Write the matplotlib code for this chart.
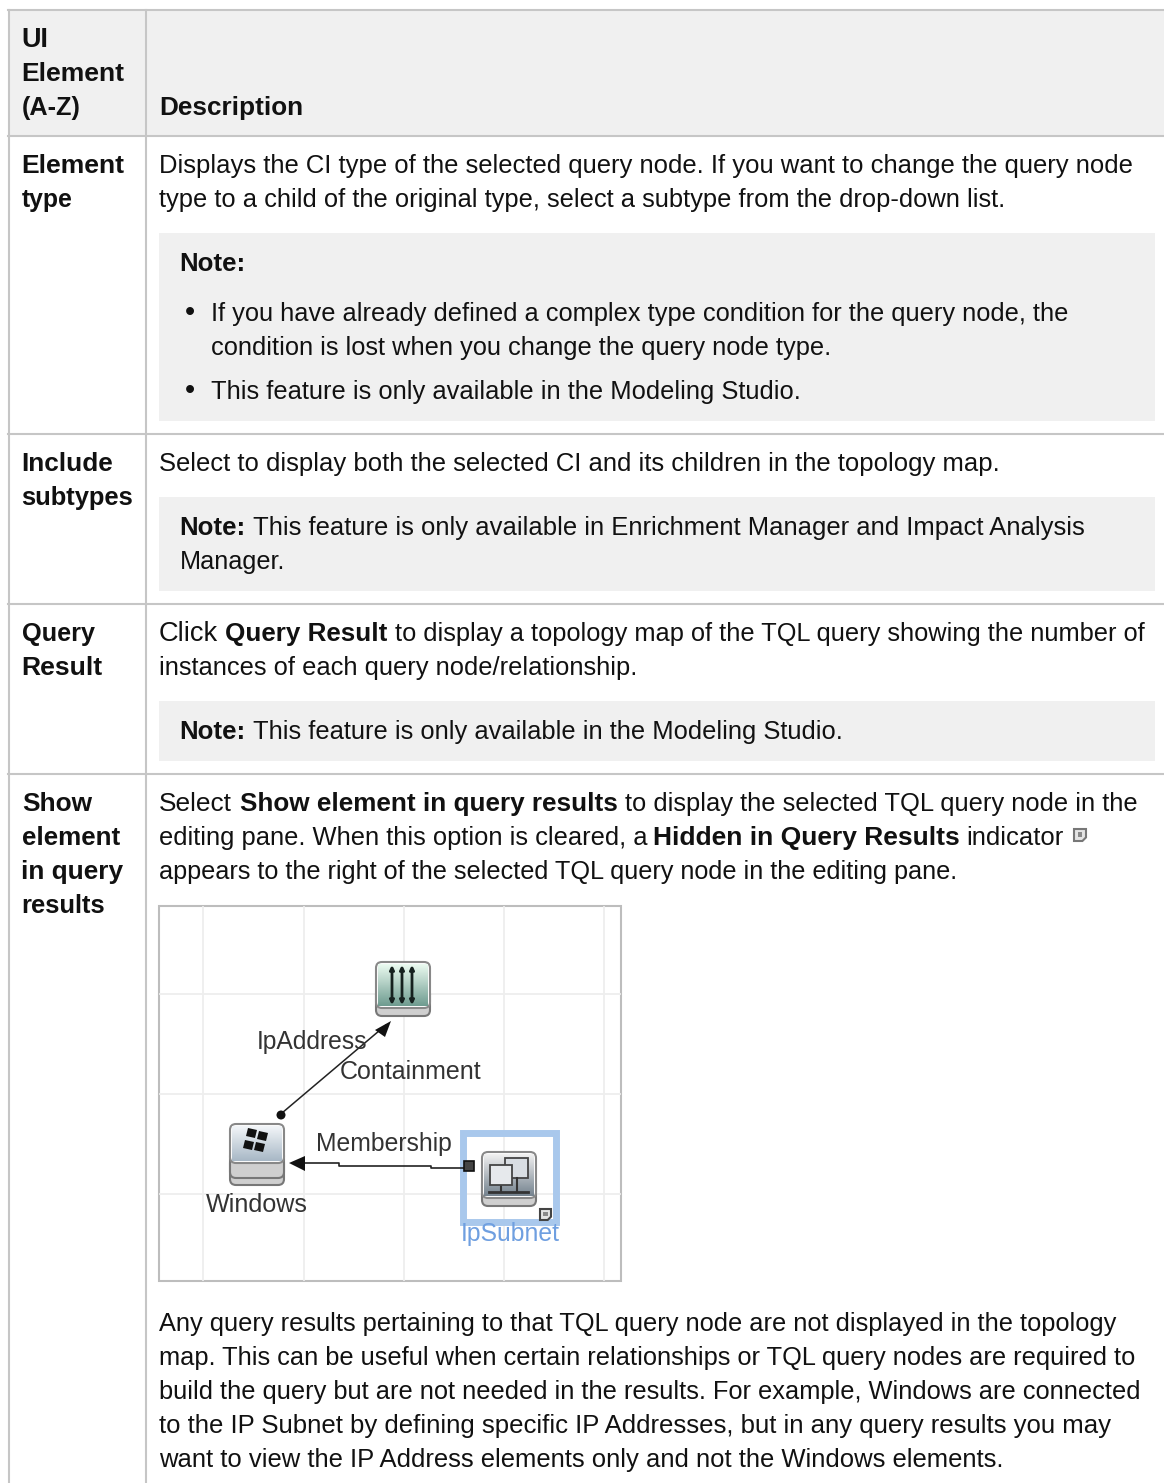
import numpy as np
import matplotlib
matplotlib.use('Agg')
import matplotlib.pyplot as plt
from matplotlib.patches import Rectangle, FancyBboxPatch, Polygon, Circle
from matplotlib.colors import LinearSegmentedColormap

W, H = 1164, 1483
FONT = 'Liberation Sans'
BASE = 19.0
TXT = '#111111'
RULE = '#c6c6c6'
SHADE = '#f0f0f0'

# table structure, in page pixels
col_x = 146
header_bottom = 136
row_rules = [434, 604, 774]
note_boxes = [(233, 421), (497, 591), (701, 761)]

# left column: text, x, baseline, right edge
ui_labels = [
    ('UI', 21, 47, 48), ('Element', 21, 81, 124), ('(A-Z)', 22, 115, 81),
    ('Element', 21, 173, 124), ('type', 22, 207, 73),
    ('Include', 21, 471, 113), ('subtypes', 21, 505, 133),
    ('Query', 22, 641, 95), ('Result', 21, 675, 102),
    ('Show', 22, 811, 92), ('element', 22, 845, 120),
    ('in query', 21, 879, 123), ('results', 21, 913, 105),
]

# right column: text, bold, x, baseline, right edge
desc_lines = [
    ('Description', True, 159, 115, 303),
    ('Displays the CI type of the selected query node. If you want to change the query node', False, 159, 173, 1131),
    ('type to a child of the original type, select a subtype from the drop-down list.', False, 159, 207, 1004),
    ('Note:', True, 179, 271, 245),
    ('If you have already defined a complex type condition for the query node, the', False, 211, 321, 1067),
    ('condition is lost when you change the query node type.', False, 211, 355, 830),
    ('This feature is only available in the Modeling Studio.', False, 211, 399, 799),
    ('Select to display both the selected CI and its children in the topology map.', False, 159, 471, 997),
    ('Note:', True, 179, 535, 245),
    ('This feature is only available in Enrichment Manager and Impact Analysis', False, 253, 535, 1085),
    ('Manager.', False, 180, 569, 285),
    ('Click', False, 159, 641, 218),
    ('Query Result', True, 225, 641, 387),
    ('to display a topology map of the TQL query showing the number of', False, 395, 641, 1144),
    ('instances of each query node/relationship.', False, 159, 675, 638),
    ('Note:', True, 179, 739, 245),
    ('This feature is only available in the Modeling Studio.', False, 253, 739, 841),
    ('Select', False, 159, 811, 232),
    ('Show element in query results', True, 240, 811, 617),
    ('to display the selected TQL query node in the', False, 625, 811, 1137),
    ('editing pane. When this option is cleared, a', False, 159, 845, 647),
    ('Hidden in Query Results', True, 653, 845, 959),
    ('indicator', False, 966, 845, 1063),
    ('appears to the right of the selected TQL query node in the editing pane.', False, 159, 879, 957),
    ('Any query results pertaining to that TQL query node are not displayed in the topology', False, 159, 1331, 1114),
    ('map. This can be useful when certain relationships or TQL query nodes are required to', False, 159, 1365, 1133),
    ('build the query but are not needed in the results. For example, Windows are connected', False, 159, 1399, 1139),
    ('to the IP Subnet by defining specific IP Addresses, but in any query results you may', False, 159, 1433, 1113),
    ('want to view the IP Address elements only and not the Windows elements.', False, 159, 1467, 1005),
]
bullet_rows = [321, 399]

# embedded screenshot of the query map
shot_box = (159, 906, 621, 1281)
shot_grid_x = [203, 304, 404, 504, 604]
shot_grid_y = [994, 1094, 1194]
shot_labels = [
    ('IpAddress', 257, 1049, 368, '#333333'),
    ('Containment', 340, 1079, 482, '#333333'),
    ('Membership', 316, 1151, 452, '#333333'),
    ('Windows', 206, 1212, 308, '#333333'),
    ('IpSubnet', 461, 1241, 560, '#6f9fe0'),
]

fig = plt.figure(figsize=(W / 100, H / 100), dpi=100)
ax = fig.add_axes([0, 0, 1, 1])
ax.set_xlim(0, W)
ax.set_ylim(H, 0)
ax.axis('off')
rend = fig.canvas.get_renderer()


def fit_text(s, bold, x, y, right, color=TXT, zorder=5):
    # size is nudged so each run ends where it does in the page
    t = ax.text(x, y, s, fontsize=BASE, family=FONT, color=color, va='baseline',
                fontweight='bold' if bold else 'normal', zorder=zorder)
    t.set_fontsize(BASE * (right - x) / t.get_window_extent(rend).width)
    return t


# header shade and rules
ax.add_patch(Rectangle((8, 10), W - 8, header_bottom - 10, fc=SHADE, ec='none'))
for top, bottom in note_boxes:
    ax.add_patch(Rectangle((159, top), 996, bottom - top, fc=SHADE, ec='none'))
ax.plot([8, W], [10, 10], color=RULE, lw=1.5)
ax.plot([8, W], [header_bottom, header_bottom], color=RULE, lw=1.5)
for y in row_rules:
    ax.plot([8, W], [y, y], color=RULE, lw=1.5)
ax.plot([8.5, 8.5], [10, H], color=RULE, lw=1.5)
ax.plot([col_x, col_x], [10, H], color=RULE, lw=1.5)

for s, x, y, right in ui_labels:
    fit_text(s, True, x, y, right)
for s, bold, x, y, right in desc_lines:
    fit_text(s, bold, x, y, right)
for y in bullet_rows:
    ax.text(190, y, '\u2022', fontsize=21, family=FONT, color=TXT, ha='center', va='baseline')


def note_icon(x, y, s, ec='#666666'):
    ax.add_patch(Polygon([(x, y), (x + s, y), (x + s, y + s * 0.7), (x + s * 0.7, y + s), (x, y + s)],
                         closed=True, fc='#e4e4e4', ec=ec, lw=1.5, zorder=5))
    ax.add_patch(Rectangle((x + s * 0.3, y + s * 0.25), s * 0.4, s * 0.4, fc='#8a8a8a', ec='none', zorder=5))


note_icon(1074, 829, 12, '#777777')

# screenshot frame and grid
x0, y0, x1, y1 = shot_box
ax.add_patch(Rectangle((x0, y0), x1 - x0, y1 - y0, fc='white', ec='#bdbdbd', lw=1.5, zorder=2))
for x in shot_grid_x:
    ax.plot([x, x], [y0 + 1, y1 - 1], color='#eeeeee', lw=1.3, zorder=2.1)
for y in shot_grid_y:
    ax.plot([x0 + 1, x1 - 1], [y, y], color='#eeeeee', lw=1.3, zorder=2.1)


def icon(x, y, top, bottom, layers):
    s = 56
    for i in range(layers, 0, -1):
        ax.add_patch(FancyBboxPatch((x + 1, y + s * 0.5 + i * 7 - 8), s - 2, s * 0.5, boxstyle='round,pad=0,rounding_size=6',
                                    fc='#cfcfcf', ec='#777777', lw=1.5, zorder=3))
    face = FancyBboxPatch((x + 1, y + 1), s - 2, s - 3 - layers * 7, boxstyle='round,pad=0,rounding_size=6',
                          fc='white', ec='#888888', lw=1.5, zorder=3.1)
    ax.add_patch(face)
    cmap = LinearSegmentedColormap.from_list('ic', [top, bottom])
    im = ax.imshow(np.linspace(0, 1, 40).reshape(-1, 1), cmap=cmap, aspect='auto', zorder=3.2,
                   extent=(x + 3, x + s - 3, y + s - 4 - layers * 7, y + 3))
    im.set_clip_path(face)


icon(375, 961, '#eafaf0', '#6f9c90', 1)
icon(229, 1123, '#f2f5f8', '#a8b8c6', 2)
icon(481, 1151, '#f0f0f0', '#75838f', 1)
ax.set_xlim(0, W)
ax.set_ylim(H, 0)

# ip address glyph
for x in [392, 402, 412]:
    ax.annotate('', xy=(x, 965), xytext=(x, 1005), zorder=4,
                arrowprops=dict(arrowstyle='<|-|>', color='#16211f', lw=2, mutation_scale=6, shrinkA=0, shrinkB=0))

# windows flag
for dx, dy in [(2, 0), (13, 3), (-1, 12), (10, 14)]:
    px, py = 244 + dx, 1128 + dy
    ax.add_patch(Polygon([(px + 2, py), (px + 11, py + 2), (px + 9, py + 10), (px, py + 8)],
                         closed=True, fc='#111111', ec='none', zorder=4))

# subnet glyph
ax.add_patch(Rectangle((505, 1158), 23, 20, fc='#d8dde2', ec='#444444', lw=1.3, zorder=4))
ax.add_patch(Rectangle((490, 1165), 22, 20, fc='#e6e9ec', ec='#444444', lw=1.3, zorder=4.1))
ax.plot([489, 528], [1192, 1192], color='#333333', lw=2, zorder=4)
ax.plot([501, 501], [1185, 1192], color='#333333', lw=1.5, zorder=4)
ax.plot([517, 517], [1178, 1192], color='#333333', lw=1.5, zorder=4)

# selection square
ax.add_patch(Rectangle((462.5, 1132.5), 93, 89, fc='none', ec='#a9c8ec', lw=5, zorder=3.5))

# relationships
ax.plot([282, 386], [1113, 1025], color='#222222', lw=1.1, zorder=4)
ax.add_patch(Polygon([(391, 1021), (375, 1030), (385, 1037)], closed=True, fc='#111111', ec='none', zorder=4))
ax.add_patch(Circle((281, 1115), 4.5, fc='#111111', ec='none', zorder=4))
ax.plot([465, 431, 431, 339, 339, 298], [1168, 1168, 1166, 1166, 1163, 1163], color='#222222', lw=1.2, zorder=4)
ax.add_patch(Polygon([(289, 1163), (305, 1156), (305, 1171)], closed=True, fc='#111111', ec='none', zorder=4))
ax.add_patch(Rectangle((464, 1161), 10, 10, fc='#444444', ec='#111111', lw=1.2, zorder=4))
note_icon(540, 1209, 11, '#444444')

for s, x, y, right, c in shot_labels:
    fit_text(s, False, x, y, right, color=c)

fig.savefig('out.png', dpi=100)
